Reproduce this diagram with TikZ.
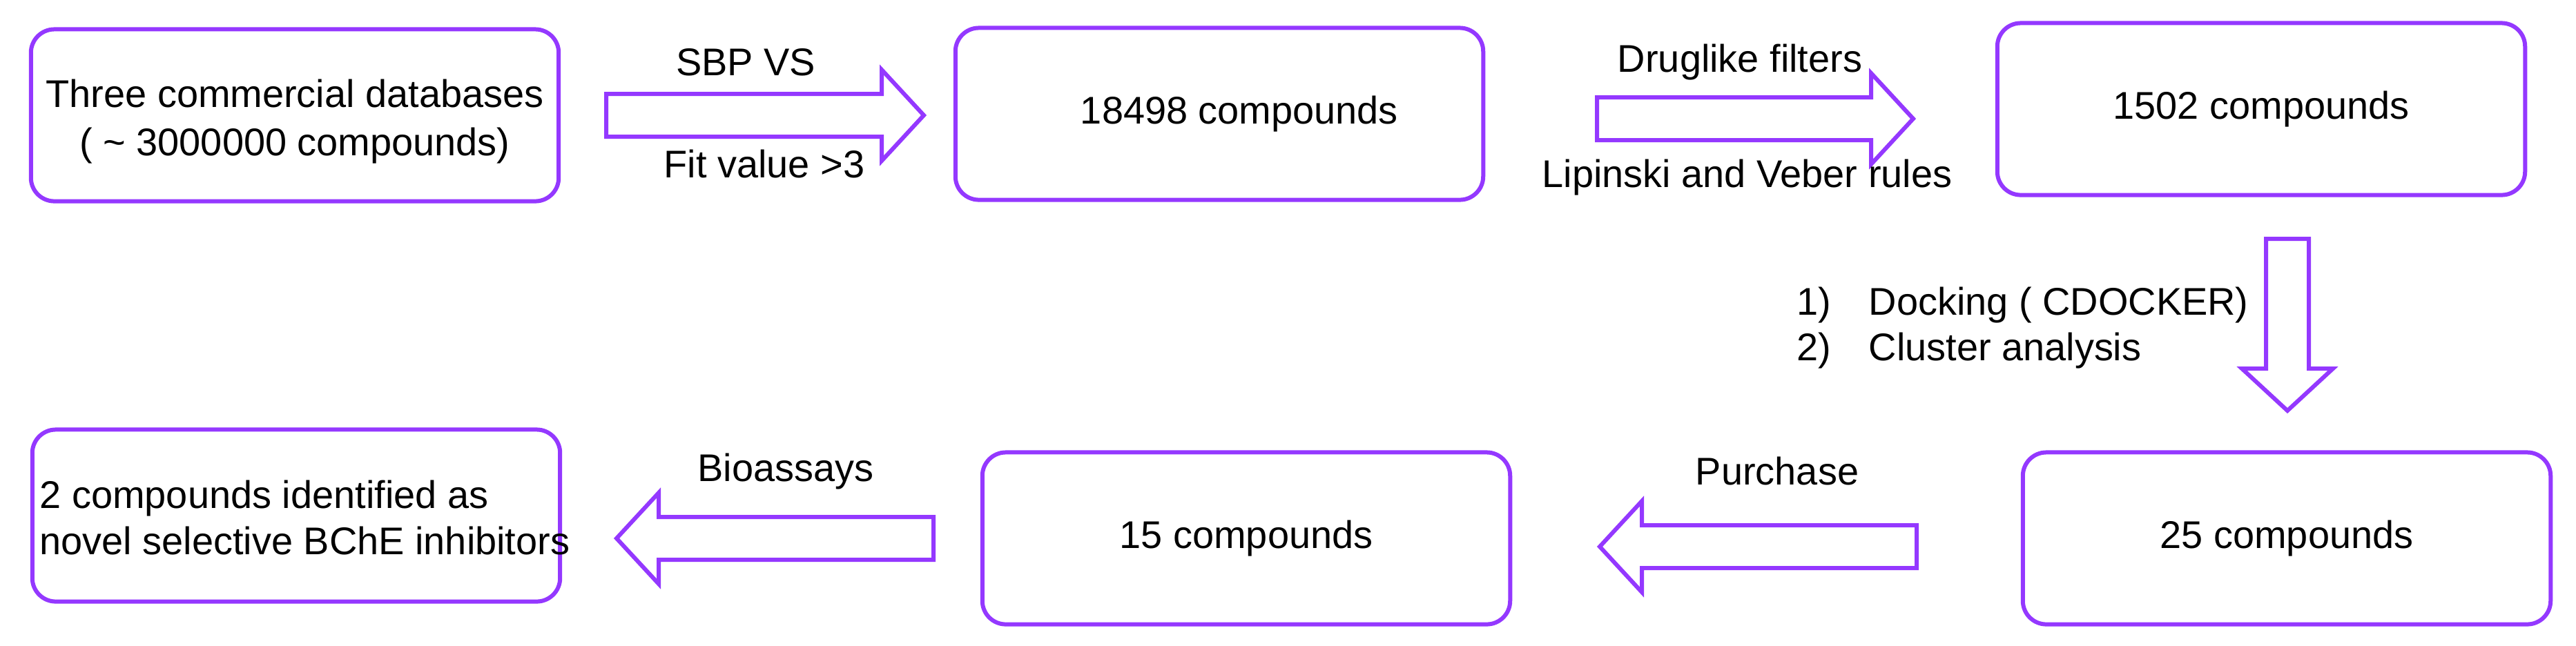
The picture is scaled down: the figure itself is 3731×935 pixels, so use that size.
\documentclass[tikz,border=0pt]{standalone}
\usepackage{fontspec}
\setmainfont{Liberation Sans}
\usepackage{tikz}
\usetikzlibrary{calc}

\definecolor{boxpurple}{RGB}{148,56,255}

% hollow block arrow: tail coordinate, direction, length
\newcommand{\fatarrow}[3]{%
  \draw[fatline, shift={(#1)}, rotate=#2]
    (0,-31) -- ({#3-61},-31) -- ({#3-61},-66) -- (#3,0)
    -- ({#3-61},66) -- ({#3-61},31) -- (0,31) -- cycle;
}

\begin{document}
\begin{tikzpicture}[x=0.01cm, y=-0.01cm,
  every node/.style={font=\fontsize{15.9pt}{19pt}\selectfont},
  stage/.style={draw=boxpurple, line width=0.06cm, rounded corners=0.34cm,
    minimum width=7.64cm, minimum height=2.49cm, inner sep=0pt, align=center},
  note/.style={inner sep=0pt, align=left},
  fatline/.style={draw=boxpurple, line width=0.06cm, fill=white}]
\useasboundingbox (0,0) rectangle (3731,935);

% top row
\node[stage] (dbs) at (427,167) {\raisebox{-0.1cm}[\height][\depth]{%
  \begin{tabular}{@{}c@{}}Three commercial databases\\[1pt]( \textasciitilde{} 3000000 compounds)\end{tabular}}};
\node[stage] (hits) at (1766,165) {\hspace{0.58cm}18498 compounds};
\node[stage] (drug) at (3275,158) {1502 compounds};

% bottom row
\node[stage] (dock) at (3312,780) {25 compounds};
\node[stage] (bought) at (1805,780) {15 compounds};
\node[stage] (final) at (429,747) {};
\node[note, anchor=west] (finaltxt) at (57,750) {2 compounds identified as\\novel selective BChE inhibitors};

% arrows
\coordinate (vs) at (878,167);
\coordinate (filt) at (2313,172);
\coordinate (cdock) at (3313,346);
\coordinate (buy) at (2776,792);
\coordinate (assay) at (1352,780);
\fatarrow{vs}{0}{460}
\fatarrow{filt}{0}{458}
\fatarrow{cdock}{-90}{249}
\fatarrow{buy}{180}{459}
\fatarrow{assay}{180}{459}

% labels
\node[note] (sbp) at (1080,90) {SBP VS};
\node[note] (fit) at (1107,237) {Fit value >3};
\node[note] (druglike) at (2520,90) {Druglike filters};
\node[note, anchor=west] (lipinski) at (2233,257) {Lipinski and Veber rules};
\node[note, anchor=west] (steps) at (2602,475)
  {\makebox[1.04cm][l]{1)}Docking ( CDOCKER)\\\makebox[1.04cm][l]{2)}Cluster analysis};
\node[note] (purchase) at (2574,682) {Purchase};
\node[note] (bioassays) at (1138,683) {Bioassays};
\end{tikzpicture}
\end{document}
